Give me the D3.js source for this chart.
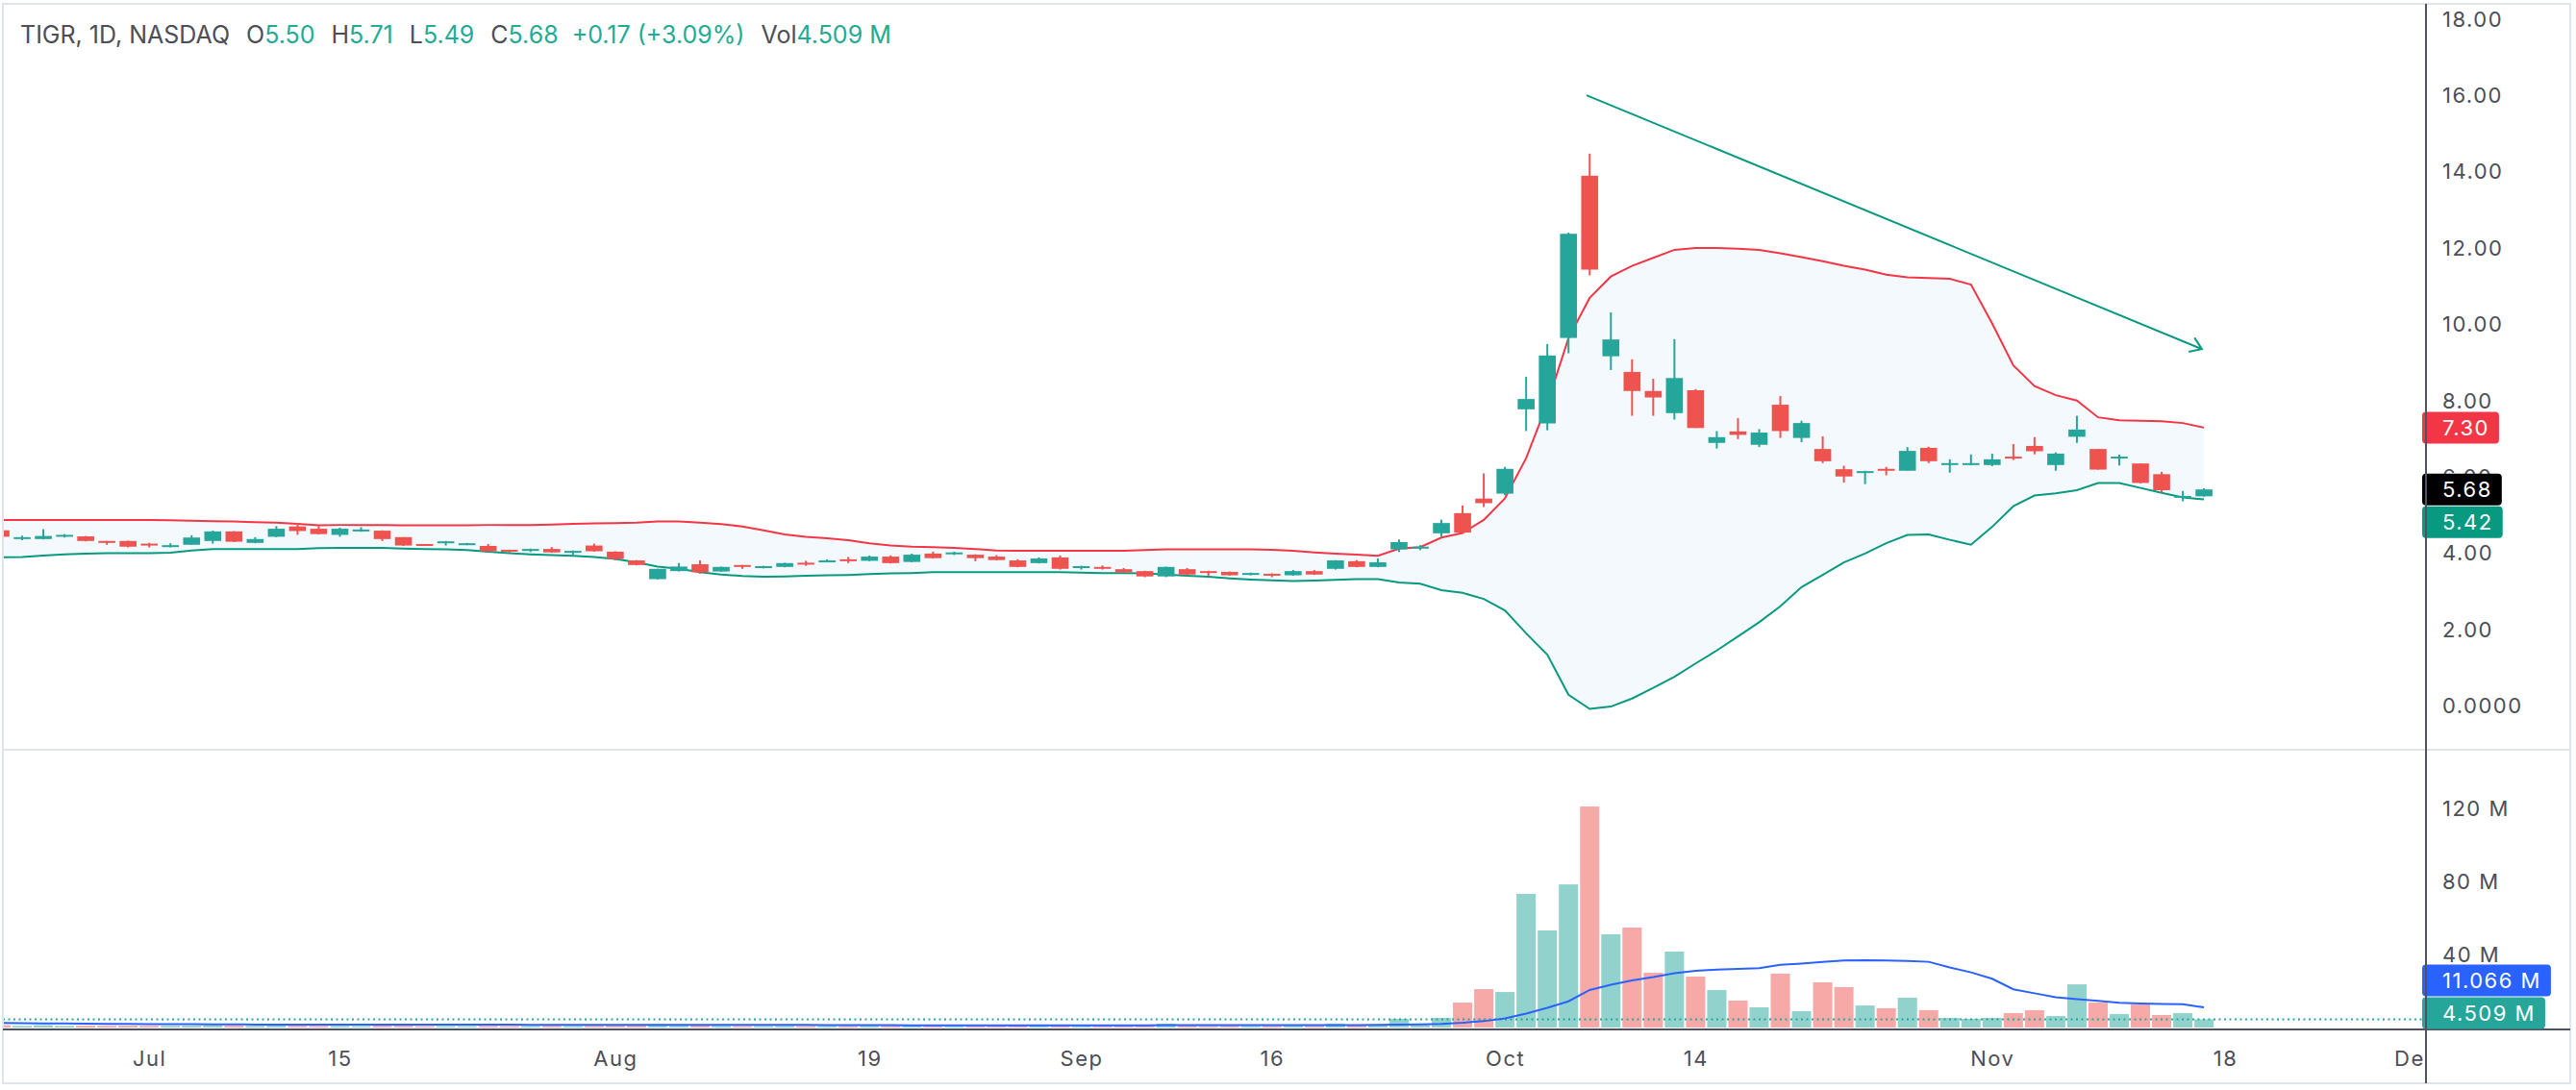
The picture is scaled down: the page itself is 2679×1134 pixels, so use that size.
<!DOCTYPE html>
<html>
<head>
<meta charset="utf-8">
<script src="https://cdn.jsdelivr.net/npm/d3@7"></script>
<style>
  html, body { margin: 0; padding: 0; background: #fff; }
  svg { display: block; }
  text { font-family: Inter, "Noto Sans", sans-serif; }
</style>
</head>
<body>
<script>
// ---- data (TIGR daily, Jun 20 – Nov 15 2024) ----
const holidays = ["2024-07-04", "2024-09-02", "2024-11-28"];
const fmt = d3.timeFormat("%Y-%m-%d");
// trading days incl. a few future ones for the time axis
const days = d3.timeDay.range(new Date(2024, 5, 20), new Date(2024, 11, 3))
  .filter(d => d.getDay() % 6 !== 0 && !holidays.includes(fmt(d)))
  .map(fmt);

const open = [4.61, 4.38, 4.38, 4.44, 4.45, 4.33, 4.33, 4.26, 4.18, 4.23,
  4.33, 4.58, 4.28, 4.44, 4.71, 4.65, 4.49, 4.59, 4.60, 4.43,
  4.25, 4.28, 4.23, 4.20, 4.10, 4.08, 4.12, 4.03, 4.21, 4.05,
  3.82, 3.33, 3.54, 3.72, 3.53, 3.70, 3.64, 3.65, 3.76, 3.78,
  3.85, 3.81, 3.92, 3.78, 4.00, 3.98, 3.97, 3.92, 3.82, 3.75,
  3.90, 3.63, 3.65, 3.59, 3.54, 3.40, 3.59, 3.54, 3.52, 3.45,
  3.47, 3.43, 3.54, 3.60, 3.80, 3.65, 4.11, 4.13, 4.53, 5.06,
  5.44, 5.57, 7.78, 7.41, 9.65, 13.90, 9.17, 8.76, 8.26, 7.68,
  8.28, 6.90, 7.20, 6.85, 7.90, 7.03, 6.74, 6.21, 6.13, 6.22,
  6.17, 6.77, 6.32, 6.32, 6.32, 6.54, 6.82, 6.32, 7.06, 6.74,
  6.49, 6.36, 6.08, 5.49, 5.50];
const high = [4.63, 4.47, 4.64, 4.51, 4.46, 4.33, 4.34, 4.28, 4.27, 4.48,
  4.60, 4.59, 4.43, 4.72, 4.80, 4.72, 4.68, 4.69, 4.61, 4.43,
  4.25, 4.33, 4.28, 4.25, 4.10, 4.13, 4.17, 4.08, 4.26, 4.06,
  3.83, 3.60, 3.75, 3.82, 3.66, 3.70, 3.68, 3.76, 3.81, 3.85,
  3.91, 3.95, 3.95, 4.00, 4.05, 4.05, 3.98, 3.96, 3.85, 3.90,
  3.95, 3.68, 3.69, 3.62, 3.55, 3.66, 3.62, 3.55, 3.53, 3.50,
  3.48, 3.57, 3.57, 3.83, 3.83, 3.87, 4.37, 4.22, 4.89, 5.26,
  6.10, 6.27, 8.63, 9.49, 12.41, 14.48, 10.32, 9.09, 8.58, 9.62,
  8.31, 7.21, 7.55, 7.26, 8.13, 7.48, 7.07, 6.30, 6.17, 6.27,
  6.79, 6.80, 6.47, 6.60, 6.62, 6.87, 7.05, 6.65, 7.61, 6.74,
  6.59, 6.36, 6.14, 5.64, 5.71];
const low = [4.42, 4.35, 4.37, 4.42, 4.32, 4.23, 4.16, 4.16, 4.16, 4.23,
  4.26, 4.30, 4.27, 4.43, 4.49, 4.50, 4.44, 4.57, 4.33, 4.20,
  4.20, 4.21, 4.22, 4.05, 4.02, 4.04, 4.02, 3.95, 4.05, 3.82,
  3.69, 3.32, 3.53, 3.47, 3.52, 3.60, 3.61, 3.64, 3.68, 3.77,
  3.75, 3.80, 3.74, 3.77, 3.87, 3.96, 3.80, 3.82, 3.64, 3.74,
  3.58, 3.58, 3.58, 3.50, 3.38, 3.38, 3.42, 3.42, 3.42, 3.43,
  3.38, 3.42, 3.44, 3.58, 3.64, 3.64, 4.04, 4.09, 4.43, 4.53,
  5.22, 5.53, 7.21, 7.23, 9.25, 11.29, 8.81, 7.61, 7.61, 7.51,
  7.29, 6.75, 7.00, 6.79, 7.03, 6.92, 6.37, 5.86, 5.82, 6.05,
  6.17, 6.37, 6.12, 6.31, 6.29, 6.45, 6.60, 6.17, 6.90, 6.20,
  6.31, 5.84, 5.59, 5.37, 5.49];
const close = [4.44, 4.43, 4.46, 4.49, 4.33, 4.28, 4.18, 4.21, 4.22, 4.42,
  4.58, 4.31, 4.38, 4.65, 4.59, 4.51, 4.65, 4.63, 4.38, 4.21,
  4.21, 4.32, 4.27, 4.06, 4.06, 4.12, 4.03, 4.07, 4.06, 3.86,
  3.70, 3.60, 3.66, 3.51, 3.65, 3.65, 3.67, 3.75, 3.72, 3.82,
  3.81, 3.92, 3.75, 3.97, 3.88, 4.03, 3.88, 3.83, 3.65, 3.87,
  3.60, 3.67, 3.60, 3.51, 3.40, 3.65, 3.45, 3.50, 3.43, 3.49,
  3.43, 3.54, 3.45, 3.82, 3.65, 3.77, 4.30, 4.18, 4.80, 4.55,
  5.32, 6.22, 8.05, 9.19, 12.38, 11.44, 9.61, 8.26, 8.09, 8.60,
  7.29, 7.05, 7.11, 7.17, 7.21, 7.42, 6.42, 6.02, 6.16, 6.17,
  6.69, 6.42, 6.37, 6.37, 6.47, 6.49, 6.68, 6.62, 7.25, 6.20,
  6.54, 5.85, 5.66, 5.51, 5.68];

// volume in millions
const volume = [1.3, 0.9, 1.3, 0.9, 1.0, 0.9, 1.0, 0.9, 0.9, 1.0,
  1.2, 1.0, 0.9, 1.1, 1.0, 0.9, 0.9, 0.8, 1.0, 1.0,
  0.8, 0.8, 0.8, 0.9, 0.8, 0.8, 0.9, 0.8, 0.9, 1.0,
  1.1, 1.7, 1.0, 1.1, 0.9, 0.8, 0.8, 0.9, 0.8, 0.8,
  0.8, 0.9, 0.9, 0.9, 0.9, 0.8, 0.9, 0.9, 1.0, 0.9,
  1.0, 0.8, 0.8, 0.9, 1.0, 2.1, 1.0, 0.8, 0.9, 0.8,
  0.9, 1.0, 0.9, 2.2, 1.3, 1.4, 4.8, 1.5, 5.3, 13.7,
  21.1, 19.5, 73.4, 53.3, 78.6, 121.4, 51.2, 54.9, 30.1, 41.7,
  28.0, 20.6, 14.8, 11.1, 29.6, 9.0, 24.8, 22.2, 12.1, 10.6,
  16.4, 9.5, 5.3, 4.75, 5.3, 7.9, 9.5, 6.3, 23.7, 13.7,
  7.4, 12.7, 6.9, 7.9, 4.509];
const volumeMA = [2.5, 2.4, 2.3, 2.2, 2.1, 2.0, 1.95, 1.9, 1.85, 1.8,
  1.75, 1.7, 1.65, 1.6, 1.6, 1.6, 1.6, 1.6, 1.6, 1.6,
  1.6, 1.6, 1.55, 1.55, 1.55, 1.5, 1.5, 1.5, 1.5, 1.5,
  1.5, 1.5, 1.5, 1.5, 1.45, 1.45, 1.4, 1.4, 1.4, 1.35,
  1.35, 1.3, 1.3, 1.25, 1.25, 1.25, 1.25, 1.25, 1.25, 1.25,
  1.25, 1.25, 1.25, 1.25, 1.25, 1.3, 1.3, 1.3, 1.3, 1.3,
  1.3, 1.3, 1.3, 1.35, 1.35, 1.4, 1.6, 1.7, 2.0, 2.6,
  3.5, 5.0, 7.7, 10.8, 14.4, 20.6, 23.5, 25.9, 27.7, 29.8,
  31.2, 31.8, 32.2, 32.6, 34.4, 35.1, 36.0, 36.8, 37.0, 36.8,
  36.5, 36.1, 33.0, 30.3, 26.8, 21.0, 18.8, 16.6, 15.6, 14.7,
  13.6, 13.2, 13.0, 12.8, 11.066];

const upperBand = [4.88, 4.88, 4.88, 4.88, 4.88, 4.88, 4.88, 4.88, 4.87, 4.86,
  4.85, 4.84, 4.82, 4.81, 4.78, 4.74, 4.75, 4.75, 4.75, 4.74,
  4.74, 4.74, 4.74, 4.75, 4.75, 4.75, 4.76, 4.78, 4.79, 4.80,
  4.81, 4.84, 4.84, 4.81, 4.77, 4.71, 4.61, 4.50, 4.44, 4.40,
  4.35, 4.27, 4.21, 4.18, 4.17, 4.15, 4.12, 4.08, 4.07, 4.07,
  4.07, 4.07, 4.07, 4.07, 4.09, 4.11, 4.11, 4.11, 4.11, 4.11,
  4.10, 4.07, 4.03, 4.00, 3.97, 3.94, 4.13, 4.17, 4.42, 4.54,
  4.88, 5.45, 6.50, 7.93, 9.65, 10.70, 11.26, 11.54, 11.75, 11.96,
  12.01, 12.01, 11.99, 11.96, 11.87, 11.77, 11.66, 11.54, 11.44, 11.31,
  11.24, 11.22, 11.20, 11.05, 10.03, 8.93, 8.39, 8.15, 8.01, 7.57,
  7.49, 7.48, 7.47, 7.42, 7.30];
const lowerBand = [3.90, 3.91, 3.95, 3.98, 4.00, 4.01, 4.01, 4.01, 4.02, 4.08,
  4.12, 4.12, 4.12, 4.12, 4.12, 4.14, 4.15, 4.15, 4.15, 4.13,
  4.12, 4.11, 4.09, 4.05, 4.01, 3.98, 3.96, 3.94, 3.91, 3.86,
  3.77, 3.66, 3.60, 3.51, 3.45, 3.41, 3.39, 3.40, 3.42, 3.43,
  3.44, 3.46, 3.48, 3.49, 3.51, 3.51, 3.51, 3.51, 3.51, 3.51,
  3.51, 3.50, 3.49, 3.49, 3.48, 3.45, 3.42, 3.39, 3.35, 3.32,
  3.30, 3.28, 3.29, 3.31, 3.33, 3.33, 3.24, 3.21, 3.04, 2.97,
  2.81, 2.51, 1.91, 1.35, 0.30, -0.07, -0.01, 0.20, 0.48, 0.77,
  1.12, 1.46, 1.83, 2.20, 2.62, 3.12, 3.44, 3.77, 4.00, 4.27,
  4.49, 4.50, 4.36, 4.23, 4.70, 5.24, 5.52, 5.58, 5.66, 5.85,
  5.85, 5.72, 5.59, 5.47, 5.42];

const tickDates = ["2024-07-01", "2024-07-15", "2024-08-01", "2024-08-19", "2024-09-03",
  "2024-09-16", "2024-10-01", "2024-10-14", "2024-11-01", "2024-11-18", "2024-12-02"];
const tickLabels = ["Jul", "15", "Aug", "19", "Sep", "16", "Oct", "14", "Nov", "18", "Dec"];
const priceTicks = [0, 2, 4, 6, 8, 10, 12, 14, 16, 18];
const volumeTicks = [40, 80, 120];

// hand-drawn trend arrow, in (bar index, price)
const trendLine = [[74.85, 16.01], [103.9, 9.36]];

// ---- layout ----
const w = 2679, h = 1134;
const axisX = 2523, rightEdge = 2673;
const paneTop = 4, paneSep = 780, volBottom = 1071, frameBottom = 1127;

const green = "#26a69a", red = "#ef5350";
const textGrey = "#4c4e58";

const svg = d3.select("body").append("svg").attr("width", w).attr("height", h);

const defs = svg.append("defs");
defs.append("clipPath").attr("id", "clip-main")
  .append("rect").attr("x", 3).attr("y", paneTop).attr("width", axisX - 3).attr("height", paneSep - paneTop);
defs.append("clipPath").attr("id", "clip-vol")
  .append("rect").attr("x", 3).attr("y", paneSep).attr("width", axisX - 3).attr("height", volBottom - paneSep);
defs.append("clipPath").attr("id", "clip-time")
  .append("rect").attr("x", 3).attr("y", volBottom).attr("width", axisX - 3).attr("height", frameBottom - volBottom);

// scales
const x = d3.scaleLinear().domain([0, days.length - 1]).range([1, 1 + 22.03 * (days.length - 1)]);
const y = d3.scaleLinear().domain([0, 18]).range([734.7, 20.1]);
const yv = d3.scaleLinear().domain([0, 120]).range([1069, 841.7]);

const idx = d3.range(close.length);
const step = x(1) - x(0);
const up = i => close[i] >= open[i];

// ---- main pane ----
const main = svg.append("g").attr("clip-path", "url(#clip-main)");

main.append("path")
  .datum(idx)
  .attr("fill", "#f4f9fe")
  .attr("d", d3.area().x(i => x(i)).y0(i => y(lowerBand[i])).y1(i => y(upperBand[i])));

main.append("path")
  .datum(idx)
  .attr("fill", "none")
  .attr("stroke", "#f23645")
  .attr("stroke-width", 2)
  .attr("d", d3.line().x(i => x(i)).y(i => y(upperBand[i])));

main.append("path")
  .datum(idx)
  .attr("fill", "none")
  .attr("stroke", "#089981")
  .attr("stroke-width", 2)
  .attr("d", d3.line().x(i => x(i)).y(i => y(lowerBand[i])));

const candle = main.selectAll("g.candle").data(idx).join("g").attr("class", "candle");
candle.append("line")
  .attr("x1", i => x(i)).attr("x2", i => x(i))
  .attr("y1", i => y(high[i])).attr("y2", i => y(low[i]))
  .attr("stroke", i => (up(i) ? green : red))
  .attr("stroke-width", 2);
candle.append("rect")
  .attr("x", i => x(i) - step * 0.4)
  .attr("width", step * 0.8)
  .attr("y", i => y(Math.max(open[i], close[i])))
  .attr("height", i => Math.max(2, Math.abs(y(open[i]) - y(close[i]))))
  .attr("fill", i => (up(i) ? green : red));

// trend arrow
const [p0, p1] = trendLine.map(([i, p]) => [x(i), y(p)]);
const ang = Math.atan2(p1[1] - p0[1], p1[0] - p0[0]);
const arm = a => [p1[0] - 14 * Math.cos(ang + a), p1[1] - 14 * Math.sin(ang + a)];
main.append("path")
  .attr("fill", "none")
  .attr("stroke", "#089981")
  .attr("stroke-width", 2)
  .attr("d", d3.line()([p0, p1]) + "M" + arm(0.6) + "L" + p1 + "L" + arm(-0.6));

// ---- volume pane ----
const vol = svg.append("g").attr("clip-path", "url(#clip-vol)");

vol.selectAll("rect")
  .data(idx)
  .join("rect")
  .attr("x", i => x(i) - (step - 2) / 2)
  .attr("width", step - 2)
  .attr("y", i => yv(volume[i]))
  .attr("height", i => yv(0) - yv(volume[i]))
  .attr("fill", i => (up(i) ? "#92d2cc" : "#f7a9a7"));

vol.append("line")
  .attr("x1", 3).attr("x2", axisX)
  .attr("y1", yv(volume[volume.length - 1])).attr("y2", yv(volume[volume.length - 1]))
  .attr("stroke", green)
  .attr("stroke-width", 2)
  .attr("stroke-dasharray", "2,3.5");

vol.append("path")
  .datum(idx)
  .attr("fill", "none")
  .attr("stroke", "#2962ff")
  .attr("stroke-width", 2)
  .attr("d", d3.line().x(i => x(i)).y(i => yv(volumeMA[i])));

// ---- frame ----
svg.append("rect")
  .attr("x", 3).attr("y", paneTop).attr("width", rightEdge - 3).attr("height", frameBottom - paneTop)
  .attr("fill", "none").attr("stroke", "#e0e3eb").attr("stroke-width", 2);
svg.append("line")
  .attr("x1", 3).attr("x2", rightEdge).attr("y1", paneSep).attr("y2", paneSep)
  .attr("stroke", "#e0e3eb").attr("stroke-width", 2);
svg.append("line")
  .attr("x1", 3).attr("x2", rightEdge).attr("y1", volBottom).attr("y2", volBottom)
  .attr("stroke", "#50535e").attr("stroke-width", 2);

// ---- axes ----
const axisStyle = g => {
  g.select(".domain").remove();
  g.selectAll("text")
    .attr("fill", textGrey)
    .style("font-size", "22px")
    .style("letter-spacing", "1.5px")
    .style("font-family", "Inter, sans-serif");
};

svg.append("g")
  .attr("transform", `translate(${axisX},0)`)
  .call(d3.axisRight(y).tickValues(priceTicks).tickSize(0).tickPadding(17)
    .tickFormat(d => (d === 0 ? "0.0000" : d.toFixed(2))))
  .call(axisStyle);

svg.append("g")
  .attr("transform", `translate(${axisX},0)`)
  .call(d3.axisRight(yv).tickValues(volumeTicks).tickSize(0).tickPadding(17)
    .tickFormat(d => d + " M"))
  .call(axisStyle);

svg.append("g")
  .attr("clip-path", "url(#clip-time)")
  .append("g")
  .attr("transform", `translate(0,${volBottom})`)
  .call(d3.axisBottom(x).tickValues(tickDates.map(d => days.indexOf(d))).tickSize(0).tickPadding(22)
    .tickFormat((d, i) => tickLabels[i]))
  .call(axisStyle);

// ---- last-value labels on the scale ----
function valueLabels(items, scale, maxY) {
  const bh = 33;
  items.forEach(d => (d.cy = scale(d.value)));
  items.sort((a, b) => a.cy - b.cy);
  // push down, then keep inside the pane
  for (let k = 1; k < items.length; k++) {
    items[k].cy = Math.max(items[k].cy, items[k - 1].cy + bh + 1);
  }
  const over = items[items.length - 1].cy + bh / 2 - maxY;
  if (over > 0) {
    items[items.length - 1].cy -= over;
    for (let k = items.length - 2; k >= 0; k--) {
      items[k].cy = Math.min(items[k].cy, items[k + 1].cy - bh - 1);
    }
  }
  items.forEach(d => {
    const g = svg.append("g").attr("transform", `translate(${axisX},${d.cy})`);
    const rect = g.append("rect").attr("y", -bh / 2).attr("height", bh).attr("rx", 4).attr("fill", d.color);
    const t = g.append("text")
      .attr("x", 17).attr("dy", "0.36em")
      .attr("fill", "#fff")
      .style("font-size", "22px").style("letter-spacing", "1.5px")
      .text(d.text);
    rect.attr("x", -4).attr("width", t.node().getComputedTextLength() + 17 + 14);
  });
}

const last = close.length - 1;
valueLabels([
  { value: upperBand[last], text: upperBand[last].toFixed(2), color: "#f23645" },
  { value: close[last], text: close[last].toFixed(2), color: "#000" },
  { value: lowerBand[last], text: lowerBand[last].toFixed(2), color: "#089981" }
], y, paneSep);

valueLabels([
  { value: volumeMA[last], text: volumeMA[last].toFixed(3) + " M", color: "#2962ff" },
  { value: volume[last], text: volume[last].toFixed(3) + " M", color: green }
], yv, volBottom - 0.5);

// axis line drawn last, over the boxes' rounded left edge
svg.append("line")
  .attr("x1", axisX).attr("x2", axisX).attr("y1", paneTop).attr("y2", frameBottom)
  .attr("stroke", "#50535e").attr("stroke-width", 2);

// ---- legend ----
const chg = close[last] - close[last - 1];
const sign = v => (v >= 0 ? "+" : "");
const legendParts = [
  ["TIGR, 1D, NASDAQ", textGrey, 0],
  ["O", textGrey, 17], [open[last].toFixed(2), "#22ab94", 0],
  ["H", textGrey, 17], [high[last].toFixed(2), "#22ab94", 0],
  ["L", textGrey, 17], [low[last].toFixed(2), "#22ab94", 0],
  ["C", textGrey, 17], [close[last].toFixed(2), "#22ab94", 0],
  [`${sign(chg)}${chg.toFixed(2)} (${sign(chg)}${(chg / close[last - 1] * 100).toFixed(2)}%)`, "#22ab94", 14],
  ["Vol", textGrey, 17], [volume[last].toFixed(3) + " M", "#22ab94", 0]
];
svg.append("text")
  .attr("x", 21).attr("y", 45)
  .style("font-size", "25px")
  .selectAll("tspan")
  .data(legendParts)
  .join("tspan")
  .attr("dx", d => d[2])
  .attr("fill", d => d[1])
  .text(d => d[0]);
</script>
</body>
</html>
